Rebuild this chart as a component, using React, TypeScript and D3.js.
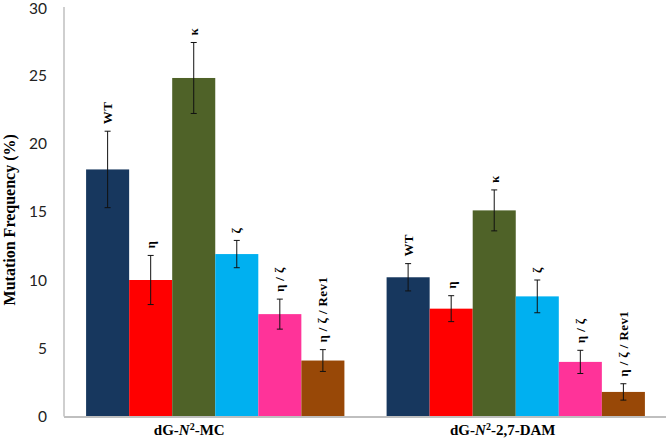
import React from 'react';
import * as d3 from 'd3';

const groups = ['MC', 'DAM'];
const strains = ['WT', 'η', 'κ', 'ζ', 'η / ζ', 'η / ζ / Rev1'];
const colors = ['#17375e', '#ff0000', '#4f6228', '#00b0f0', '#ff3399', '#984807'];
const mcValues = [18.1, 10.0, 24.8, 11.9, 7.5, 4.1];
const mcErrors = [2.8, 1.8, 2.6, 1.0, 1.1, 0.8];
const damValues = [10.2, 7.9, 15.1, 8.8, 4.0, 1.8];
const damErrors = [1.0, 0.95, 1.5, 1.2, 0.85, 0.6];
const yTicks = [0, 5, 10, 15, 20, 25, 30];

const W = 666;
const H = 440;
const margin = { top: 7, right: 0, bottom: 23, left: 65 };
const serif = "'Liberation Serif', 'DejaVu Serif', serif";

const App: React.FC = () => {
  const x = d3.scaleBand<string>()
    .domain(groups)
    .range([margin.left, W - margin.right]);
  const inner = d3.scaleBand<string>()
    .domain(strains)
    .range([0, x.bandwidth()])
    .paddingOuter(0.49)
    .paddingInner(0);
  const y = d3.scaleLinear().domain([0, 30]).range([H - margin.bottom - 0.5, margin.top]);

  const series = [
    { key: 'MC', values: mcValues, errors: mcErrors },
    { key: 'DAM', values: damValues, errors: damErrors },
  ];

  return (
    <svg width={W} height={H} style={{ position: 'absolute', left: 0, top: 0 }}>
      <rect width={W} height={H} fill="#fff" />
      {yTicks.map(t => (
        <text key={t} x={47} y={Math.max(y(t), 8)} dy="0.36em" textAnchor="end"
          fontFamily="Lato, 'Open Sans', sans-serif" fontSize={15.5} fill="#222">{t}</text>
      ))}
      <text transform={`translate(15,${(y(0) + y(30)) / 2 + 8}) rotate(-90)`} textAnchor="middle"
        fontFamily={serif} fontWeight="bold" fontSize={16}>
        Mutation Frequency (%)
      </text>
      {series.map(s => (
        <g key={s.key}>
          {s.values.map((v, i) => {
            const bx = (x(s.key) as number) + (inner(strains[i]) as number);
            const cx = bx + inner.bandwidth() / 2;
            const top = y(v + s.errors[i]);
            const bot = y(v - s.errors[i]);
            return (
              <g key={i}>
                <rect x={bx} y={y(v)} width={inner.bandwidth()} height={y(0) - y(v)} fill={colors[i]} />
                <line x1={cx} x2={cx} y1={top} y2={bot} stroke="#111" strokeWidth={1} />
                <line x1={cx - 3} x2={cx + 3} y1={top} y2={top} stroke="#111" strokeWidth={1} />
                <line x1={cx - 3} x2={cx + 3} y1={bot} y2={bot} stroke="#111" strokeWidth={1} />
                <text transform={`translate(${cx + 4.5},${top - 7}) rotate(-90)`} textAnchor="start"
                  fontFamily={serif} fontWeight="bold" fontSize={13} letterSpacing={0.4}>
                  {strains[i]}
                </text>
              </g>
            );
          })}
        </g>
      ))}
      <line x1={margin.left - 1} x2={margin.left - 1} y1={margin.top} y2={y(0)} stroke="#bfbfbf" strokeWidth={1.5} />
      <line x1={margin.left - 1} x2={W} y1={y(0) + 0.5} y2={y(0) + 0.5} stroke="#bfbfbf" strokeWidth={2} />
      <text x={(x('MC') as number) + x.bandwidth() / 2 - 26} y={435} textAnchor="middle"
        fontFamily={serif} fontWeight="bold" fontSize={15}>
        dG-<tspan fontStyle="italic">N</tspan><tspan dy={-5} fontSize={10}>2</tspan><tspan dy={5}>-MC</tspan>
      </text>
      <text x={(x('DAM') as number) + x.bandwidth() / 2 - 13} y={435} textAnchor="middle"
        fontFamily={serif} fontWeight="bold" fontSize={15}>
        dG-<tspan fontStyle="italic">N</tspan><tspan dy={-5} fontSize={10}>2</tspan><tspan dy={5}>-2,7-DAM</tspan>
      </text>
    </svg>
  );
};

export default App;
